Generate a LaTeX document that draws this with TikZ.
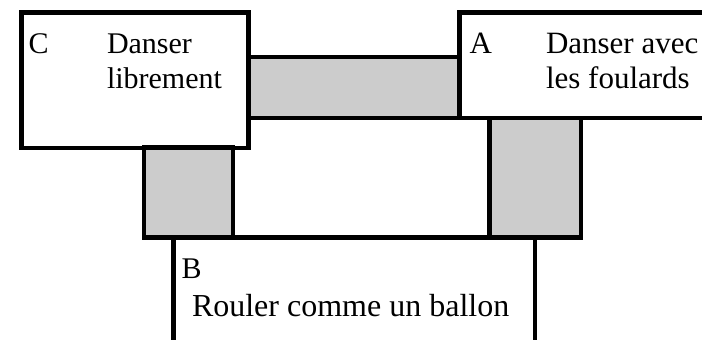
\documentclass[tikz,border=0pt]{standalone}
\usepackage{fontspec}
\setmainfont{Liberation Serif}
\definecolor{barfill}{RGB}{204,204,204}
\begin{document}
\begin{tikzpicture}[x=1pt,y=-1pt,
  frame/.style={draw=black,line width=4.5pt,fill=white,rectangle,inner sep=0pt,outer sep=0pt,anchor=north west},
  bar/.style={draw=black,line width=4.5pt,fill=barfill},
  edge/.style={draw=black,line width=4.5pt},
  lbl/.style={inner sep=0pt,outer sep=0pt,anchor=base west,font=\fontsize{30}{35}\selectfont},
  midlbl/.style={lbl,font=\fontsize{31}{36}\selectfont},
  biglbl/.style={lbl,font=\fontsize{32}{37}\selectfont}]
\path[use as bounding box] (0,0) rectangle (702,340);
\clip (0,0) rectangle (702,340);
% horizontal grey bar between C and A
\path[bar] (248.7,57) rectangle (459.7,118);
% boxes
\node[frame,minimum width=227pt,minimum height=135.4pt] (C) at (21.7,12.5) {};
\node[frame,minimum width=320pt,minimum height=105.5pt] (A) at (459.7,12.5) {};
% vertical grey blocks
\path[bar] (144,147.7) rectangle (233,237.5);
\path[bar] (489.7,118) rectangle (581,237.5);
\coordinate (bl) at (144,237.5);
\coordinate (br) at (581,237.5);
\draw[edge] (bl) -- (br);
% B side lines
\coordinate (bt1) at (173.5,237.5);
\coordinate (bb1) at (173.5,350);
\coordinate (bt2) at (535,237.5);
\coordinate (bb2) at (535,350);
\draw[edge] (bt1) -- (bb1);
\draw[edge] (bt2) -- (bb2);
% texts
\node[lbl] (Cl) at (28.5,53) {C};
\node[lbl] (Ct1) at (107,53) {Danser};
\node[lbl] (Ct2) at (107,88) {librement};
\node[midlbl] (Al) at (469.5,53) {A};
\node[midlbl] (At1) at (546,53) {Danser avec};
\node[midlbl] (At2) at (546,88) {les foulards};
\node[lbl] (Bl) at (181.5,278) {B};
\node[biglbl] (Bt) at (192,316) {Rouler comme un ballon};
\end{tikzpicture}
\end{document}
